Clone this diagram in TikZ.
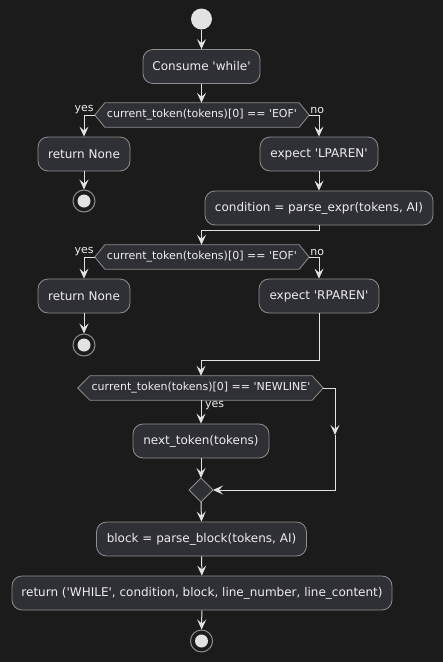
\documentclass[tikz,border=0pt]{standalone}
\usepackage{fontspec}
\setmainfont{DejaVu Sans}
\usetikzlibrary{arrows.meta,calc}
\definecolor{bgc}{HTML}{1B1B1B}
\definecolor{boxc}{HTML}{2F2F36}
\definecolor{edgec}{HTML}{8E8E8E}
\definecolor{linec}{HTML}{E2E2E2}
\definecolor{txtc}{HTML}{EEEEEE}
\newcommand{\qq}{\textquotesingle}
\tikzset{
  act/.style={draw=edgec, fill=boxc, rounded corners=10pt, line width=0.8pt,
    text=txtc, font=\fontsize{12}{14}\selectfont, inner sep=0pt, minimum height=34pt},
  dectext/.style={inner sep=0pt, minimum height=24pt, text=txtc, font=\fontsize{11}{13}\selectfont},
  hex/.style={draw=edgec, fill=boxc, line width=0.8pt},
  lbl/.style={text=txtc, font=\fontsize{11}{13}\selectfont, inner sep=0pt},
  flow/.style={draw=linec, line width=1pt, -{Stealth[length=10pt,width=9pt,inset=4pt]}},
  startc/.style={circle, fill=linec, minimum size=21pt, inner sep=0pt},
  endc/.style={circle, draw=edgec, line width=1pt, fill=bgc, minimum size=22pt, inner sep=0pt},
  endin/.style={circle, fill=linec, minimum size=13pt, inner sep=0pt},
  mergebox/.style={draw=edgec, fill=boxc, line width=0.8pt, rectangle, rotate=45,
    minimum width=17pt, minimum height=17pt, inner sep=0pt},
}
\begin{document}
\begin{tikzpicture}[x=1pt,y=-1pt]
\fill[bgc] (0,0) rectangle (443,662);
\useasboundingbox (0,0) rectangle (443,662);

% start
\node[startc] (start) at (201.5,19) {};
\node[act, minimum width=117pt] (consume) at (201.5,66.5) {Consume \qq while\qq};

% decision 1
\node[dectext, minimum width=194pt] (d1) at (202,115) {};
\coordinate (d1w) at ($(d1.west)+(-10,0)$);
\coordinate (d1e) at ($(d1.east)+(10,0)$);
\path[hex] (d1.north west) -- (d1.north east) -- (d1e) -- (d1.south east) -- (d1.south west) -- (d1w) -- cycle;
\node[dectext, minimum width=194pt] (d1t) at (d1) {current\_token(tokens)[0] == \qq EOF\qq};
\node[lbl, anchor=south east] (y1) at ($(d1w)+(-1,-1)$) {yes};
\node[lbl, anchor=south west] (n1) at ($(d1e)+(1,-1)$) {no};

\node[act, minimum width=92pt] (ret1) at (84,154) {return None};
\node[endc] (end1) at (84,201) {};
\node[endin] (end1i) at (end1) {};
\node[act, minimum width=118pt] (lparen) at (319,154) {expect \qq LPAREN\qq};
\node[act, minimum width=228pt] (cond) at (319,208) {condition = parse\_expr(tokens, AI)};

% decision 2
\node[dectext, minimum width=194pt] (d2) at (202,257) {};
\coordinate (d2w) at ($(d2.west)+(-10,0)$);
\coordinate (d2e) at ($(d2.east)+(10,0)$);
\path[hex] (d2.north west) -- (d2.north east) -- (d2e) -- (d2.south east) -- (d2.south west) -- (d2w) -- cycle;
\node[dectext, minimum width=194pt] (d2t) at (d2) {current\_token(tokens)[0] == \qq EOF\qq};
\node[lbl, anchor=south east] (y2) at ($(d2w)+(-1,-1)$) {yes};
\node[lbl, anchor=south west] (n2) at ($(d2e)+(1,-1)$) {no};

\node[act, minimum width=92pt] (ret2) at (84,296) {return None};
\node[endc] (end2) at (84,345) {};
\node[endin] (end2i) at (end2) {};
\node[act, minimum width=120pt] (rparen) at (319,296) {expect \qq RPAREN\qq};

% decision 3
\node[dectext, minimum width=222pt] (d3) at (201,388) {};
\coordinate (d3w) at ($(d3.west)+(-12,0)$);
\coordinate (d3e) at ($(d3.east)+(11,0)$);
\path[hex] (d3.north west) -- (d3.north east) -- (d3e) -- (d3.south east) -- (d3.south west) -- (d3w) -- cycle;
\node[dectext, minimum width=222pt] (d3t) at (d3) {current\_token(tokens)[0] == \qq NEWLINE\qq};
\node[lbl, anchor=north west] (y3) at ($(d3.south)+(4,1)$) {yes};

\node[act, minimum width=136pt] (next) at (201,441) {next\_token(tokens)};
\node[mergebox] (merge) at (201,490) {};
\coordinate (mergeE) at (213,490);
\coordinate (mergeN) at (201,478);
\coordinate (mergeS) at (201,502);

\node[act, minimum width=210pt] (block) at (201.5,539) {block = parse\_block(tokens, AI)};
\node[act, minimum width=380pt] (retw) at (202,593) {return (\qq WHILE\qq, condition, block, line\_number, line\_content)};
\node[endc] (end3) at (201.5,641) {};
\node[endin] (end3i) at (end3) {};

% connectors
\draw[flow] (start) -- (consume);
\draw[flow] (consume) -- (consume |- d1.north);
\draw[flow] (d1w) -| (ret1.north);
\draw[flow] (d1e) -| (lparen.north);
\draw[flow] (ret1) -- (end1);
\draw[flow] (lparen) -- (cond);
\coordinate (j1) at ($(cond.south)+(0,5)$);
\draw[flow] (cond.south) -- (j1) -| (d2.north -| consume);
\draw[flow] (d2w) -| (ret2.north);
\draw[flow] (d2e) -| (rparen.north);
\draw[flow] (ret2) -- (end2);
\coordinate (j2) at (319,360);
\draw[flow] (rparen.south) -- (j2) -| (d3.north);
\draw[flow] (d3.south) -- (next.north);
\draw[flow] (next.south) -- (mergeN);
\coordinate (r1) at (335,388);
\coordinate (r2) at (335,435);
\coordinate (r3) at (335,490);
\draw[flow] (d3e) -- (r1) -- (r2);
\draw[flow] (r2) -- (r3) -- (mergeE);
\draw[flow] (mergeS) -- (block.north);
\draw[flow] (block) -- (retw);
\draw[flow] (retw) -- (end3);
\end{tikzpicture}
\end{document}
